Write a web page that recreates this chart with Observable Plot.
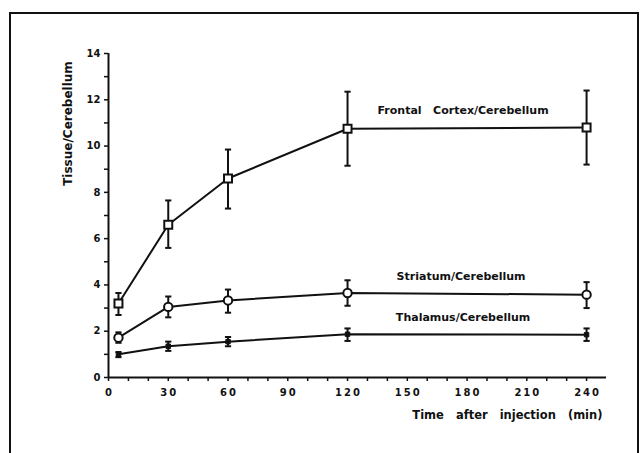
<!DOCTYPE html>
<html><head><meta charset="utf-8">
<script src="https://cdn.jsdelivr.net/npm/d3@7"></script>
<script src="https://cdn.jsdelivr.net/npm/@observablehq/plot@0.6"></script>
<style>
html,body{margin:0;padding:0;background:#fff;}
#wrap{position:relative;width:642px;height:453px;overflow:hidden;}
#frame{position:absolute;left:9px;top:12px;width:630px;height:460px;border:2px solid #111;box-sizing:border-box;pointer-events:none;}
</style></head>
<body><div id="wrap"><div id="frame"></div></div>
<script>
const times = [5, 30, 60, 120, 240];
const frontal   = [3.2, 6.6, 8.6, 10.75, 10.8];
const frontalLo = [2.7, 5.6, 7.3, 9.15, 9.2];
const frontalHi = [3.65, 7.65, 9.85, 12.35, 12.4];
const striatum   = [1.72, 3.05, 3.33, 3.65, 3.58];
const striatumLo = [1.5, 2.6, 2.8, 3.1, 3.0];
const striatumHi = [1.95, 3.5, 3.8, 4.2, 4.12];
const thalamus   = [1.0, 1.35, 1.55, 1.87, 1.85];
const thalamusLo = [0.88, 1.15, 1.35, 1.58, 1.58];
const thalamusHi = [1.1, 1.55, 1.75, 2.12, 2.12];
const seriesNames = ["Frontal\u00a0\u00a0\u00a0Cortex/Cerebellum", "Striatum/Cerebellum", "Thalamus/Cerebellum"];
const labelX = [178, 177, 178];
const labelY = [11.55, 4.35, 2.6];
const xTicks = d3.range(0, 250, 10);
const xLabels = [0, 30, 60, 90, 120, 150, 180, 210, 240];
const yTicks = d3.range(0, 15, 1);
const yLabels = [0, 2, 4, 6, 8, 10, 12, 14];
const xTitle = "Time\u00a0\u00a0\u00a0after\u00a0\u00a0\u00a0injection\u00a0\u00a0\u00a0(min)";
const yTitle = "Tissue/Cerebellum";

const mk = (name, v, lo, hi) => times.map((t, i) => ({series: name, t, v: v[i], lo: lo[i], hi: hi[i]}));
const F = mk("F", frontal, frontalLo, frontalHi);
const S = mk("S", striatum, striatumLo, striatumHi);
const T = mk("T", thalamus, thalamusLo, thalamusHi);
const labels = seriesNames.map((n, i) => ({n, x: labelX[i], y: labelY[i]}));

const FONT = "'DejaVu Sans', Verdana, sans-serif";
const capSymbol = {draw(ctx, size){ const w = Math.sqrt(size); ctx.moveTo(-w/2, 0); ctx.lineTo(w/2, 0); }};
const errMarks = (d) => [
  Plot.ruleX(d, {x: "t", y1: "lo", y2: "hi", stroke: "#111", strokeWidth: 2}),
  Plot.dot(d, {x: "t", y: "lo", symbol: capSymbol, r: 3.5, stroke: "#111", strokeWidth: 2}),
  Plot.dot(d, {x: "t", y: "hi", symbol: capSymbol, r: 3.5, stroke: "#111", strokeWidth: 2})
];

const chart = Plot.plot({
  width: 642, height: 453,
  marginLeft: 108, marginRight: 36, marginTop: 53, marginBottom: 76,
  x: {domain: [0, 250]},
  y: {domain: [0, 14]},
  style: {fontFamily: FONT, fontWeight: "bold", fontSize: "10px", color: "#111", background: "transparent"},
  marks: [
    Plot.axisX({ticks: xTicks, tickSize: 4, tickPadding: 7, fontSize: 10, fontWeight: "bold", tickFormat: d => xLabels.includes(d) ? String(d).split("").join("\u2009") : "", label: null, strokeWidth: 1.5}),
    Plot.axisY({ticks: yTicks, tickSize: 4, tickPadding: 4, fontSize: 10, fontWeight: "bold", tickFormat: d => yLabels.includes(d) ? d : "", label: null, strokeWidth: 1.5}),
    Plot.ruleY([0], {stroke: "#111", strokeWidth: 2}),
    Plot.ruleX([0], {stroke: "#111", strokeWidth: 2}),
    ...errMarks(F), ...errMarks(S), ...errMarks(T),
    Plot.line(F, {x: "t", y: "v", stroke: "#111", strokeWidth: 2}),
    Plot.line(S, {x: "t", y: "v", stroke: "#111", strokeWidth: 2}),
    Plot.line(T, {x: "t", y: "v", stroke: "#111", strokeWidth: 2}),
    Plot.dot(F, {x: "t", y: "v", symbol: "square", r: 4.5, fill: "white", stroke: "#111", strokeWidth: 2}),
    Plot.dot(S, {x: "t", y: "v", symbol: "circle", r: 4.2, fill: "white", stroke: "#111", strokeWidth: 2}),
    Plot.dot(T, {x: "t", y: "v", symbol: "square", r: 2.5, fill: "#111", stroke: "#111", strokeWidth: 1}),
    Plot.text(labels, {x: "x", y: "y", text: "n", fontSize: 11, fontWeight: "bold", fill: "#111", style: "letter-spacing:0.7px"}),
    Plot.text([xTitle], {frameAnchor: "bottom-right", dx: -4, dy: 41, fontSize: 11.5, fontWeight: "bold", fill: "#111", style: "letter-spacing:0.6px"}),
    Plot.text([yTitle], {frameAnchor: "top-left", textAnchor: "middle", rotate: -90, dx: -45, dy: 70, fontSize: 12, fontWeight: "bold", fill: "#111", style: "letter-spacing:1px"})
  ]
});
document.getElementById("wrap").prepend(chart);
</script></body></html>
